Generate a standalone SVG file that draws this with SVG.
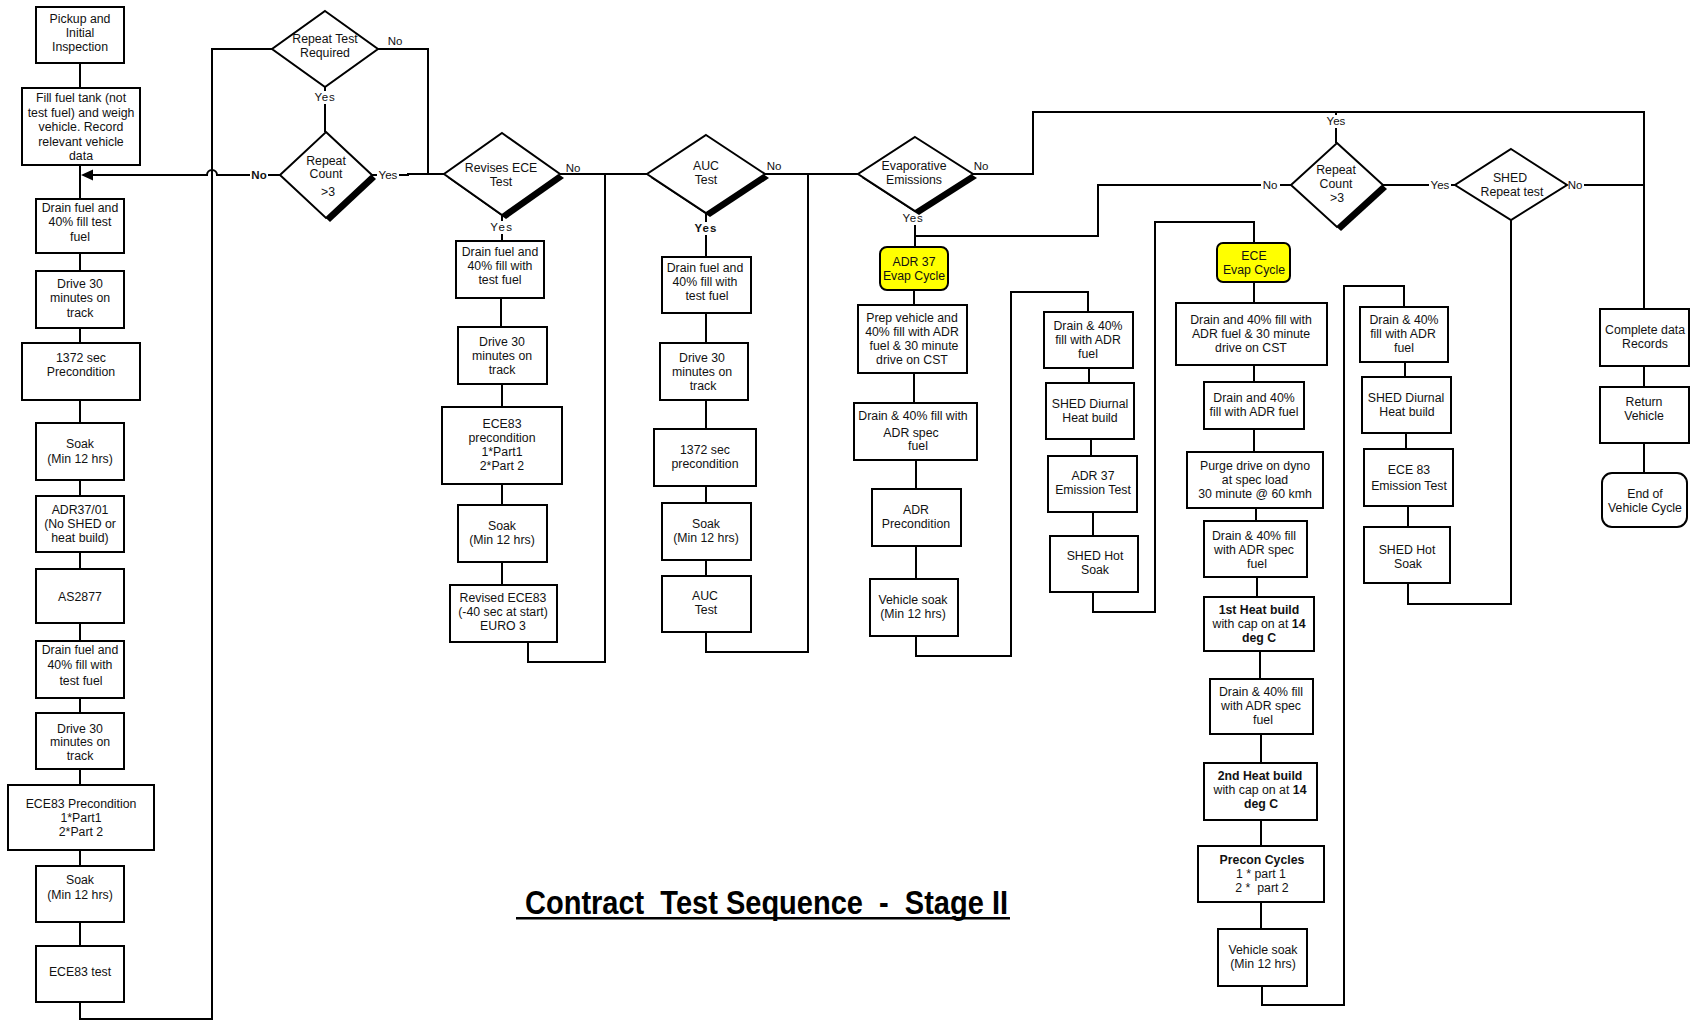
<svg xmlns="http://www.w3.org/2000/svg" width="1692" height="1022" viewBox="0 0 1692 1022">
  <style>
    .box { fill: #fff; stroke: #000; stroke-width: 2; }
    .dec { fill: #fff; stroke: #000; stroke-width: 2; }
    .shadow { fill: #000; }
    .evap { fill: #ffff00; stroke: #000; stroke-width: 2; }
    .t { font-family: "Liberation Sans", Arial, sans-serif; font-size: 12.3px; text-anchor: middle; fill: #111; }
    .b { font-weight: bold; }
    .ln { fill: none; stroke: #000; stroke-width: 2; }
    .lbl { font-family: "Liberation Sans", Arial, sans-serif; font-size: 11.5px; text-anchor: middle; fill: #111; }
    .lblbg { fill: #fff; }
    .title { font-family: "Liberation Sans", Arial, sans-serif; font-size: 33px; font-weight: bold; fill: #000; }
  </style>
  <rect width="1692" height="1022" fill="#fff"/>

  <!-- connectors -->
  <g id="connectors">
    <!-- left column -->
    <path class="ln" d="M80 63V88M80 165V199M80 253V271M80 328V343M80 400V423M80 480V496M80 552V569M80 623V641M80 698V713M80 769V785M80 850V866M80 922V946"/>
    <path class="ln" d="M80 1002V1019H212V49H272"/>
    <path class="ln" d="M92 175H207A5 5 0 0 1 217 175H280"/>
    <polygon points="81,175 93,169.5 93,180.5" fill="#000"/>
    <!-- repeat test loop -->
    <path class="ln" d="M325 87V132"/>
    <path class="ln" d="M378 49H428V174"/>
    <path class="ln" d="M372 175H408V174H444"/>
    <!-- revises ECE column -->
    <path class="ln" d="M560 174H647"/>
    <path class="ln" d="M502 215V241M501 298V327M502 384V407M502 484V505M502 562V585"/>
    <path class="ln" d="M528 642V662H605V174"/>
    <!-- AUC column -->
    <path class="ln" d="M765 174H858"/>
    <path class="ln" d="M706 213V257M706 313V343M706 400V429M706 486V503M706 560V576"/>
    <path class="ln" d="M706 632V652H808V174"/>
    <!-- evaporative branch -->
    <path class="ln" d="M973 174H1033V112H1644V309"/>
    <path class="ln" d="M1336 112V143"/>
    <path class="ln" d="M915 211V247M915 236H1098V185H1291"/>
    <path class="ln" d="M914 290V305M914 373V403M916 460V489M916 546V579"/>
    <path class="ln" d="M916 636V656H1011V292H1088V312"/>
    <path class="ln" d="M1089 368V383M1091 439V456M1093 512V536"/>
    <path class="ln" d="M1093 592V612H1155V222H1254V243"/>
    <!-- ECE evap column -->
    <path class="ln" d="M1254 282V303M1254 365V382M1254 429V452M1256 508V521M1257 577V597M1260 651V679M1261 734V763M1261 820V846M1261 902V929"/>
    <path class="ln" d="M1262 986V1005H1344V286H1404V307"/>
    <path class="ln" d="M1405 362V377M1406 433V449M1408 506V527"/>
    <path class="ln" d="M1408 583V604H1511V220"/>
    <path class="ln" d="M1383 185H1455"/>
    <path class="ln" d="M1567 185H1644"/>
    <path class="ln" d="M1644 366V387M1644 443V473"/>

    <!-- connector labels -->
    <g id="labels">
      <rect class="lblbg" x="386" y="34" width="18" height="13"/>
      <text class="lbl" x="395" y="45">No</text>
      <rect class="lblbg" x="314" y="91" width="22" height="13"/>
      <text class="lbl" x="325" y="101" letter-spacing="0.8">Yes</text>
      <rect class="lblbg" x="250" y="168" width="18" height="13"/>
      <text class="lbl b" x="259" y="179">No</text>
      <rect class="lblbg" x="377" y="168" width="22" height="13"/>
      <text class="lbl" x="388" y="179">Yes</text>
      <text class="lbl" x="573" y="172">No</text>
      <rect class="lblbg" x="490" y="221" width="24" height="13"/>
      <text class="lbl" x="502" y="231" letter-spacing="1.5">Yes</text>
      <text class="lbl" x="774" y="170">No</text>
      <rect class="lblbg" x="693" y="222" width="26" height="13"/>
      <text class="lbl b" x="706" y="232" letter-spacing="1">Yes</text>
      <text class="lbl" x="981" y="170">No</text>
      <rect class="lblbg" x="902" y="212" width="22" height="13"/>
      <text class="lbl" x="913" y="222" letter-spacing="0.8">Yes</text>
      <rect class="lblbg" x="1325" y="115" width="22" height="13"/>
      <text class="lbl" x="1336" y="125">Yes</text>
      <rect class="lblbg" x="1261" y="179" width="19" height="13"/>
      <text class="lbl" x="1270" y="189">No</text>
      <rect class="lblbg" x="1429" y="179" width="22" height="13"/>
      <text class="lbl" x="1440" y="189">Yes</text>
      <rect class="lblbg" x="1566" y="179" width="18" height="13"/>
      <text class="lbl" x="1575" y="189">No</text>
    </g>
  </g>

  <!-- left column: first test sequence -->
  <g id="pickup">
    <rect class="box" x="36" y="7" width="88" height="56"/>
    <text class="t"><tspan x="80" y="23">Pickup and</tspan><tspan x="80" y="37">Initial</tspan><tspan x="80" y="51">Inspection</tspan></text>
  </g>
  <g id="fill-tank">
    <rect class="box" x="22" y="88" width="118" height="77"/>
    <text class="t"><tspan x="81" y="102">Fill fuel tank (not</tspan><tspan x="81" y="116.5">test fuel) and weigh</tspan><tspan x="81" y="131">vehicle. Record</tspan><tspan x="81" y="145.5">relevant vehicle</tspan><tspan x="81" y="160">data</tspan></text>
  </g>
  <g id="drain-1">
    <rect class="box" x="36" y="199" width="88" height="54"/>
    <text class="t"><tspan x="80" y="212">Drain fuel and</tspan><tspan x="80" y="226">40% fill test</tspan><tspan x="80" y="241">fuel</tspan></text>
  </g>
  <g id="drive-1">
    <rect class="box" x="36" y="271" width="88" height="57"/>
    <text class="t"><tspan x="80" y="288">Drive 30</tspan><tspan x="80" y="302">minutes on</tspan><tspan x="80" y="317">track</tspan></text>
  </g>
  <g id="precon-1372">
    <rect class="box" x="22" y="343" width="118" height="57"/>
    <text class="t"><tspan x="81" y="362">1372 sec</tspan><tspan x="81" y="376">Precondition</tspan></text>
  </g>
  <g id="soak-1">
    <rect class="box" x="36" y="423" width="88" height="57"/>
    <text class="t"><tspan x="80" y="448">Soak</tspan><tspan x="80" y="463">(Min 12 hrs)</tspan></text>
  </g>
  <g id="adr3701">
    <rect class="box" x="36" y="496" width="88" height="56"/>
    <text class="t"><tspan x="80" y="514">ADR37/01</tspan><tspan x="80" y="528">(No SHED or</tspan><tspan x="80" y="542">heat build)</tspan></text>
  </g>
  <g id="as2877">
    <rect class="box" x="36" y="569" width="88" height="54"/>
    <text class="t" x="80" y="601">AS2877</text>
  </g>
  <g id="drain-2">
    <rect class="box" x="36" y="641" width="88" height="57"/>
    <text class="t"><tspan x="80" y="654">Drain fuel and</tspan><tspan x="80" y="669">40% fill with</tspan><tspan x="81" y="685">test fuel</tspan></text>
  </g>
  <g id="drive-2">
    <rect class="box" x="36" y="713" width="88" height="56"/>
    <text class="t"><tspan x="80" y="733">Drive 30</tspan><tspan x="80" y="746">minutes on</tspan><tspan x="80" y="760">track</tspan></text>
  </g>
  <g id="ece83-precon">
    <rect class="box" x="8" y="785" width="146" height="65"/>
    <text class="t"><tspan x="81" y="808">ECE83 Precondition</tspan><tspan x="81" y="822">1*Part1</tspan><tspan x="81" y="836">2*Part 2</tspan></text>
  </g>
  <g id="soak-2">
    <rect class="box" x="36" y="866" width="88" height="56"/>
    <text class="t"><tspan x="80" y="884">Soak</tspan><tspan x="80" y="899">(Min 12 hrs)</tspan></text>
  </g>
  <g id="ece83-test">
    <rect class="box" x="36" y="946" width="88" height="56"/>
    <text class="t" x="80" y="976">ECE83 test</text>
  </g>

  <!-- repeat decisions -->
  <g id="repeat-test-required">
    <polygon class="dec" points="325,11 378,49 325,87 272,49"/>
    <text class="t"><tspan x="325" y="43">Repeat Test</tspan><tspan x="325" y="57">Required</tspan></text>
  </g>
  <g id="repeat-count-1">
    <polygon class="shadow" points="330,136 376,179 330,222 284,179"/>
    <polygon class="dec" points="326,132 372,175 326,218 280,175"/>
    <text class="t"><tspan x="326" y="165">Repeat</tspan><tspan x="326" y="178">Count</tspan><tspan x="328" y="196">&gt;3</tspan></text>
  </g>

  <!-- revised ECE column -->
  <g id="revises-ece">
    <polygon class="shadow" points="506,137 564,178 506,219 448,178"/>
    <polygon class="dec" points="502,133 560,174 502,215 444,174"/>
    <text class="t"><tspan x="501" y="172">Revises ECE</tspan><tspan x="501" y="186">Test</tspan></text>
  </g>
  <g id="rev-drain">
    <rect class="box" x="456" y="241" width="88" height="57"/>
    <text class="t"><tspan x="500" y="256">Drain fuel and</tspan><tspan x="500" y="270">40% fill with</tspan><tspan x="500" y="284">test fuel</tspan></text>
  </g>
  <g id="rev-drive">
    <rect class="box" x="458" y="327" width="89" height="57"/>
    <text class="t"><tspan x="502" y="346">Drive 30</tspan><tspan x="502" y="360">minutes on</tspan><tspan x="502" y="374">track</tspan></text>
  </g>
  <g id="rev-precon">
    <rect class="box" x="442" y="407" width="120" height="77"/>
    <text class="t"><tspan x="502" y="428">ECE83</tspan><tspan x="502" y="442">precondition</tspan><tspan x="502" y="456">1*Part1</tspan><tspan x="502" y="470">2*Part 2</tspan></text>
  </g>
  <g id="rev-soak">
    <rect class="box" x="458" y="505" width="89" height="57"/>
    <text class="t"><tspan x="502" y="530">Soak</tspan><tspan x="502" y="544">(Min 12 hrs)</tspan></text>
  </g>
  <g id="rev-ece83">
    <rect class="box" x="450" y="585" width="107" height="57"/>
    <text class="t"><tspan x="503" y="602">Revised ECE83</tspan><tspan x="503" y="616">(-40 sec at start)</tspan><tspan x="503" y="630">EURO 3</tspan></text>
  </g>

  <!-- AUC column -->
  <g id="auc-test-dec">
    <polygon class="shadow" points="710,139 769,178 710,217 651,178"/>
    <polygon class="dec" points="706,135 765,174 706,213 647,174"/>
    <text class="t"><tspan x="706" y="170">AUC</tspan><tspan x="706" y="184">Test</tspan></text>
  </g>
  <g id="auc-drain">
    <rect class="box" x="662" y="257" width="89" height="56"/>
    <text class="t"><tspan x="705" y="272">Drain fuel and</tspan><tspan x="705" y="286">40% fill with</tspan><tspan x="707" y="300">test fuel</tspan></text>
  </g>
  <g id="auc-drive">
    <rect class="box" x="660" y="343" width="88" height="57"/>
    <text class="t"><tspan x="702" y="362">Drive 30</tspan><tspan x="702" y="376">minutes on</tspan><tspan x="703" y="390">track</tspan></text>
  </g>
  <g id="auc-precon">
    <rect class="box" x="654" y="429" width="102" height="57"/>
    <text class="t"><tspan x="705" y="454">1372 sec</tspan><tspan x="705" y="468">precondition</tspan></text>
  </g>
  <g id="auc-soak">
    <rect class="box" x="662" y="503" width="89" height="57"/>
    <text class="t"><tspan x="706" y="528">Soak</tspan><tspan x="706" y="542">(Min 12 hrs)</tspan></text>
  </g>
  <g id="auc-test">
    <rect class="box" x="662" y="576" width="89" height="56"/>
    <text class="t"><tspan x="705" y="600">AUC</tspan><tspan x="706" y="614">Test</tspan></text>
  </g>

  <!-- evaporative emissions: ADR 37 cycle -->
  <g id="evap-dec">
    <polygon class="shadow" points="919,141 977,178 919,215 862,178"/>
    <polygon class="dec" points="915,137 973,174 915,211 858,174"/>
    <text class="t"><tspan x="914" y="170">Evaporative</tspan><tspan x="914" y="184">Emissions</tspan></text>
  </g>
  <g id="adr37-evap">
    <rect class="evap" x="880" y="247" width="68" height="43" rx="7"/>
    <text class="t"><tspan x="914" y="266">ADR 37</tspan><tspan x="914" y="280">Evap Cycle</tspan></text>
  </g>
  <g id="adr-prep">
    <rect class="box" x="858" y="305" width="109" height="68"/>
    <text class="t"><tspan x="912" y="322">Prep vehicle and</tspan><tspan x="912" y="336">40% fill with ADR</tspan><tspan x="914" y="350">fuel &amp; 30 minute</tspan><tspan x="912" y="364">drive on CST</tspan></text>
  </g>
  <g id="adr-drain">
    <rect class="box" x="854" y="403" width="123" height="57"/>
    <text class="t"><tspan x="913" y="420">Drain &amp; 40% fill with</tspan><tspan x="911" y="437">ADR spec</tspan><tspan x="918" y="450">fuel</tspan></text>
  </g>
  <g id="adr-precon">
    <rect class="box" x="872" y="489" width="89" height="57"/>
    <text class="t"><tspan x="916" y="514">ADR</tspan><tspan x="916" y="528">Precondition</tspan></text>
  </g>
  <g id="adr-soak">
    <rect class="box" x="870" y="579" width="88" height="57"/>
    <text class="t"><tspan x="913" y="604">Vehicle soak</tspan><tspan x="913" y="618">(Min 12 hrs)</tspan></text>
  </g>
  <g id="adr-shed-drain">
    <rect class="box" x="1044" y="312" width="89" height="56"/>
    <text class="t"><tspan x="1088" y="330">Drain &amp; 40%</tspan><tspan x="1088" y="344">fill with ADR</tspan><tspan x="1088" y="358">fuel</tspan></text>
  </g>
  <g id="adr-shed-diurnal">
    <rect class="box" x="1046" y="383" width="88" height="56"/>
    <text class="t"><tspan x="1090" y="408">SHED Diurnal</tspan><tspan x="1090" y="422">Heat build</tspan></text>
  </g>
  <g id="adr37-emission">
    <rect class="box" x="1048" y="456" width="89" height="56"/>
    <text class="t"><tspan x="1093" y="480">ADR 37</tspan><tspan x="1093" y="494">Emission Test</tspan></text>
  </g>
  <g id="adr-shed-hot">
    <rect class="box" x="1050" y="536" width="88" height="56"/>
    <text class="t"><tspan x="1095" y="560">SHED Hot</tspan><tspan x="1095" y="574">Soak</tspan></text>
  </g>

  <!-- ECE evap cycle -->
  <g id="repeat-count-2">
    <polygon class="shadow" points="1341,147 1387,189 1341,231 1295,189"/>
    <polygon class="dec" points="1337,143 1383,185 1337,227 1291,185"/>
    <text class="t"><tspan x="1336" y="174">Repeat</tspan><tspan x="1336" y="188">Count</tspan><tspan x="1337" y="202">&gt;3</tspan></text>
  </g>
  <g id="ece-evap">
    <rect class="evap" x="1217" y="243" width="73" height="39" rx="6"/>
    <text class="t"><tspan x="1254" y="260">ECE</tspan><tspan x="1254" y="274">Evap Cycle</tspan></text>
  </g>
  <g id="ece-drain-drive">
    <rect class="box" x="1176" y="303" width="151" height="62"/>
    <text class="t"><tspan x="1251" y="324">Drain and 40% fill with</tspan><tspan x="1251" y="338">ADR fuel &amp; 30 minute</tspan><tspan x="1251" y="352">drive on CST</tspan></text>
  </g>
  <g id="ece-drain-1">
    <rect class="box" x="1204" y="382" width="100" height="47"/>
    <text class="t"><tspan x="1254" y="402">Drain and 40%</tspan><tspan x="1254" y="416">fill with ADR fuel</tspan></text>
  </g>
  <g id="ece-purge">
    <rect class="box" x="1187" y="452" width="136" height="56"/>
    <text class="t"><tspan x="1255" y="470">Purge drive on dyno</tspan><tspan x="1255" y="484">at spec load</tspan><tspan x="1255" y="498">30 minute @ 60 kmh</tspan></text>
  </g>
  <g id="ece-drain-2">
    <rect class="box" x="1204" y="521" width="103" height="56"/>
    <text class="t"><tspan x="1254" y="540">Drain &amp; 40% fill</tspan><tspan x="1254" y="554">with ADR spec</tspan><tspan x="1257" y="568">fuel</tspan></text>
  </g>
  <g id="ece-heat-1">
    <rect class="box" x="1204" y="597" width="110" height="54"/>
    <text class="t"><tspan x="1259" y="614" class="b">1st Heat build</tspan><tspan x="1259" y="628">with cap on at <tspan class="b">14</tspan></tspan><tspan x="1259" y="642" class="b">deg C</tspan></text>
  </g>
  <g id="ece-drain-3">
    <rect class="box" x="1210" y="679" width="103" height="55"/>
    <text class="t"><tspan x="1261" y="696">Drain &amp; 40% fill</tspan><tspan x="1261" y="710">with ADR spec</tspan><tspan x="1263" y="724">fuel</tspan></text>
  </g>
  <g id="ece-heat-2">
    <rect class="box" x="1204" y="763" width="113" height="57"/>
    <text class="t"><tspan x="1260" y="780" class="b">2nd Heat build</tspan><tspan x="1260" y="794">with cap on at <tspan class="b">14</tspan></tspan><tspan x="1261" y="808" class="b">deg C</tspan></text>
  </g>
  <g id="ece-precon">
    <rect class="box" x="1198" y="846" width="126" height="56"/>
    <text class="t"><tspan x="1262" y="864" class="b">Precon Cycles</tspan><tspan x="1261" y="878">1 * part 1</tspan><tspan x="1262" y="892" xml:space="preserve">2 *  part 2</tspan></text>
  </g>
  <g id="ece-soak">
    <rect class="box" x="1218" y="929" width="89" height="57"/>
    <text class="t"><tspan x="1263" y="954">Vehicle soak</tspan><tspan x="1263" y="968">(Min 12 hrs)</tspan></text>
  </g>
  <g id="ece-shed-drain">
    <rect class="box" x="1360" y="307" width="88" height="55"/>
    <text class="t"><tspan x="1404" y="324">Drain &amp; 40%</tspan><tspan x="1403" y="338">fill with ADR</tspan><tspan x="1404" y="352">fuel</tspan></text>
  </g>
  <g id="ece-shed-diurnal">
    <rect class="box" x="1362" y="377" width="89" height="56"/>
    <text class="t"><tspan x="1406" y="402">SHED Diurnal</tspan><tspan x="1407" y="416">Heat build</tspan></text>
  </g>
  <g id="ece83-emission">
    <rect class="box" x="1364" y="449" width="89" height="57"/>
    <text class="t"><tspan x="1409" y="474">ECE 83</tspan><tspan x="1409" y="490">Emission Test</tspan></text>
  </g>
  <g id="ece-shed-hot">
    <rect class="box" x="1364" y="527" width="86" height="56"/>
    <text class="t"><tspan x="1407" y="554">SHED Hot</tspan><tspan x="1408" y="568">Soak</tspan></text>
  </g>
  <g id="shed-repeat">
    <polygon class="dec" points="1511,149 1567,185 1511,220 1455,185"/>
    <text class="t"><tspan x="1510" y="182">SHED</tspan><tspan x="1512" y="196">Repeat test</tspan></text>
  </g>

  <!-- completion -->
  <g id="complete-records">
    <rect class="box" x="1600" y="309" width="89" height="57"/>
    <text class="t"><tspan x="1645" y="334">Complete data</tspan><tspan x="1645" y="348">Records</tspan></text>
  </g>
  <g id="return-vehicle">
    <rect class="box" x="1600" y="387" width="89" height="56"/>
    <text class="t"><tspan x="1644" y="406">Return</tspan><tspan x="1644" y="420">Vehicle</tspan></text>
  </g>
  <g id="end-cycle">
    <rect class="box" x="1602" y="473" width="85" height="54" rx="10"/>
    <text class="t"><tspan x="1645" y="498">End of</tspan><tspan x="1645" y="512">Vehicle Cycle</tspan></text>
  </g>

  <!-- title -->
  <g id="title">
    <text class="title" x="525" y="914" textLength="483" lengthAdjust="spacingAndGlyphs" xml:space="preserve">Contract  Test Sequence  -  Stage II</text>
    <rect x="516" y="917" width="494" height="2.5" fill="#000"/>
  </g>
</svg>
